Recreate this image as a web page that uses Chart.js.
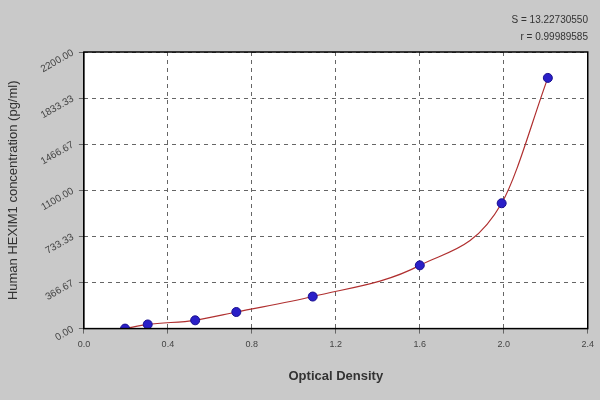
<!DOCTYPE html>
<html>
<head>
<script src="https://cdn.jsdelivr.net/npm/chart.js@4"></script>
<style>
  body { margin: 0; background: #c9c9c9; }
  #wrap { position: relative; width: 600px; height: 400px; }
  .note { position: absolute; right: 12px; font: 10px "Liberation Sans", Arial, sans-serif; color: #333; }
</style>
</head>
<body>
<div id="wrap">
  <canvas id="c" width="600" height="400"></canvas>
  <div class="note" style="top:14px">S = 13.22730550</div>
  <div class="note" style="top:31px">r = 0.99989585</div>
</div>
<script>
// standard curve
const odValues = [0.196, 0.304, 0.53, 0.726, 1.09, 1.6, 1.99, 2.21];
const concValues = [0, 33, 66, 132, 255, 503, 997, 1994];
const yTicks = [0, 366.67, 733.33, 1100, 1466.67, 1833.33, 2200];
const xTicks = [0, 0.4, 0.8, 1.2, 1.6, 2.0, 2.4];

const pts = odValues.map((x, i) => ({ x, y: concValues[i] }));

const plotBg = {
  id: 'plotBg',
  beforeDraw(chart) {
    const { ctx, chartArea: a } = chart;
    ctx.save();
    ctx.fillStyle = '#ffffff';
    ctx.fillRect(a.left, a.top, a.width, a.height);
    ctx.restore();
  },
  afterDraw(chart) {
    const { ctx, chartArea: a } = chart;
    ctx.save();
    ctx.strokeStyle = '#000';
    ctx.lineWidth = 1.5;
    ctx.strokeRect(a.left, a.top, a.width, a.height);
    ctx.restore();
  }
};

new Chart(document.getElementById('c'), {
  type: 'scatter',
  data: {
    datasets: [{
      type: 'line',
      data: pts,
      borderColor: '#b03030',
      borderWidth: 1.2,
      pointRadius: 0,
      cubicInterpolationMode: 'monotone',
      order: 2
    }, {
      data: pts,
      backgroundColor: '#2a1fc8',
      borderColor: '#1a1090',
      pointRadius: 4.5,
      order: 1
    }]
  },
  options: {
    responsive: false,
    animation: false,
    layout: { padding: { top: 52, right: 12, left: 2, bottom: 12 } },
    plugins: { legend: { display: false }, tooltip: { enabled: false } },
    scales: {
      x: {
        type: 'linear', min: 0, max: 2.4,
        afterBuildTicks: s => { s.ticks = xTicks.map(v => ({ value: v })); },
        grid: { color: '#666', tickLength: 5 },
        border: { display: true, color: '#000', dash: [4, 4] },
        ticks: { color: '#444', padding: 6, font: { size: 9, family: 'Liberation Sans' }, callback: v => v.toFixed(1) },
        title: { display: true, text: 'Optical Density', color: '#333', padding: { top: 12 }, font: { size: 13, weight: 'bold', family: 'Liberation Sans' } }
      },
      y: {
        min: 0, max: 2200,
        afterBuildTicks: s => { s.ticks = yTicks.map(v => ({ value: v })); },
        grid: { color: '#666', tickLength: 5 },
        border: { display: true, color: '#000', dash: [4, 4] },
        ticks: { color: '#444', padding: 6, font: { size: 10, family: 'Liberation Sans' }, minRotation: 30, maxRotation: 30, callback: v => v.toFixed(2) },
        title: { display: true, text: 'Human HEXIM1 concentration (pg/ml)', color: '#333', padding: { bottom: 8 }, font: { size: 13, family: 'Liberation Sans' } }
      }
    }
  },
  plugins: [plotBg]
});
</script>
</body>
</html>
